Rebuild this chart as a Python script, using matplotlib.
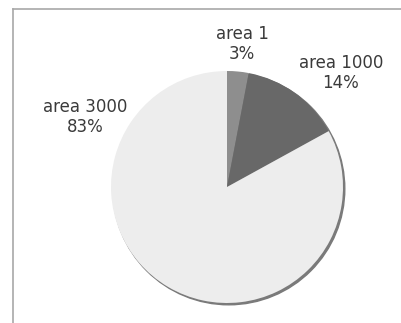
import matplotlib
matplotlib.use("Agg")
import matplotlib.pyplot as plt
from matplotlib.patches import Circle
from matplotlib.lines import Line2D

# slice data, clockwise from 12 o'clock
labels = ["area 1", "area 1000", "area 3000"]
shares = [3, 14, 83]
colors = ["#8e8e8e", "#686868", "#ededed"]

# label placement (pixel coords, y from top)
label_pos = [(242, 44), (341, 73), (85, 117)]

W, H = 401, 323
fig = plt.figure(figsize=(W / 100, H / 100), dpi=100)
ax = fig.add_axes([0, 0, 1, 1])

cx, cy, r = 227, H - 187, 116

# soft shadow on the lower-right rim
ax.add_patch(Circle((cx + 1.8, cy - 1.8), r, color="#7a7a7a", zorder=1))

ax.pie(shares, colors=colors, startangle=90, counterclock=False,
       center=(cx, cy), radius=r, frame=True,
       wedgeprops=dict(linewidth=0, zorder=2))
ax.set_xlim(0, W)
ax.set_ylim(0, H)
ax.set_aspect("equal")
ax.axis("off")

for name, val, (x, y) in zip(labels, shares, label_pos):
    ax.text(x, H - y, f"{name}\n{val}%", ha="center", va="center",
            fontsize=12, color="#3a3a3a", linespacing=1.2, zorder=3)

# frame lines on top and left
fig.add_artist(Line2D([12.5 / W, 1], [1 - 8.5 / H, 1 - 8.5 / H],
                      color="#a8a8a8", lw=1.2))
fig.add_artist(Line2D([12.5 / W, 12.5 / W], [0, 1 - 8.5 / H],
                      color="#a8a8a8", lw=1.2))

fig.savefig("out.png", dpi=100)
